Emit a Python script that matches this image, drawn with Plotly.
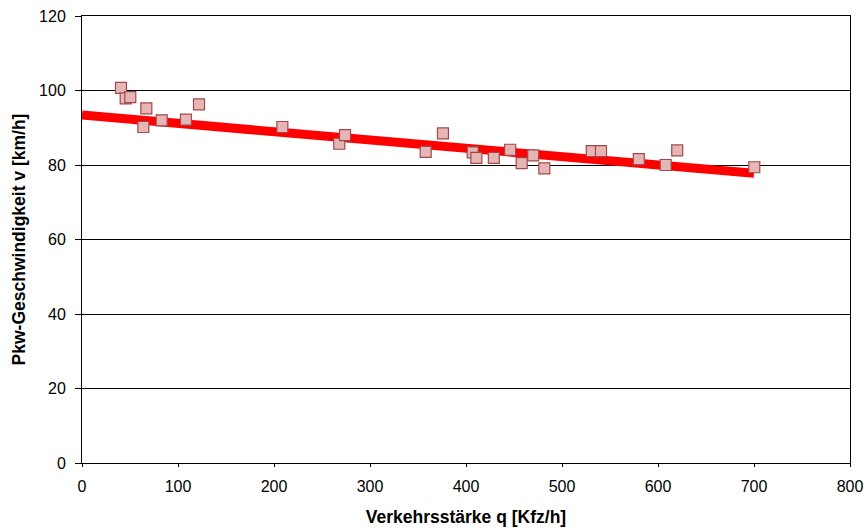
import plotly.graph_objects as go

# Measured traffic volume q [Kfz/h] and car speed v [km/h]
q_obs = [40.6, 45.5, 50.3, 63.9, 67, 83, 108.3, 121.9, 208.7, 268, 274, 358,
         376, 407, 410.8, 429, 446, 458, 470, 481.6, 531, 540.6, 580, 608, 620, 700.3]
v_obs = [100.7, 97.9, 98.2, 90.2, 95.2, 92.0, 92.2, 96.3, 90.2, 85.7, 88.0, 83.5,
         88.5, 83.4, 81.9, 81.9, 84.1, 80.5, 82.6, 79.1, 83.7, 83.7, 81.6, 80.0, 83.9, 79.4]

# Linear trend line endpoints
trend_q = [0, 700]
trend_v = [93.4, 77.8]

x_ticks = [0, 100, 200, 300, 400, 500, 600, 700, 800]
y_ticks = [0, 20, 40, 60, 80, 100, 120]

fig = go.Figure()

fig.add_trace(go.Scatter(
    x=trend_q, y=trend_v, mode="lines",
    line=dict(color="#ff0000", width=9),
    hoverinfo="skip", showlegend=False,
))

fig.add_trace(go.Scatter(
    x=q_obs, y=v_obs, mode="markers",
    marker=dict(symbol="square", size=11, color="#e6b6b6",
                line=dict(color="#a24848", width=1.2)),
    showlegend=False,
))

font_family = "Liberation Sans, Arial, sans-serif"

fig.update_layout(
    width=867, height=531,
    margin=dict(l=82, r=17, t=16, b=68, autoexpand=False),
    paper_bgcolor="white", plot_bgcolor="white",
    font=dict(family=font_family, size=16, color="black"),
    xaxis=dict(
        range=[0, 800], tickvals=x_ticks, ticks="outside", ticklen=3,
        ticklabelstandoff=6, automargin=False,
        tickcolor="black", showgrid=False, zeroline=False,
        showline=True, linecolor="black", linewidth=1, mirror=True,
        title=dict(text="<b>Verkehrsstärke q [Kfz/h]</b>", font=dict(size=17.5), standoff=16),
    ),
    yaxis=dict(
        range=[0, 120], tickvals=y_ticks, ticks="outside", ticklen=6,
        ticklabelstandoff=6, automargin=False,
        tickcolor="black", showgrid=True, gridcolor="black", gridwidth=1,
        zeroline=False, showline=True, linecolor="black", linewidth=1, mirror=True,
        title=dict(text="<b>Pkw-Geschwindigkeit v [km/h]</b>", font=dict(size=17.5), standoff=8),
    ),
)

fig.write_html("out.html")
